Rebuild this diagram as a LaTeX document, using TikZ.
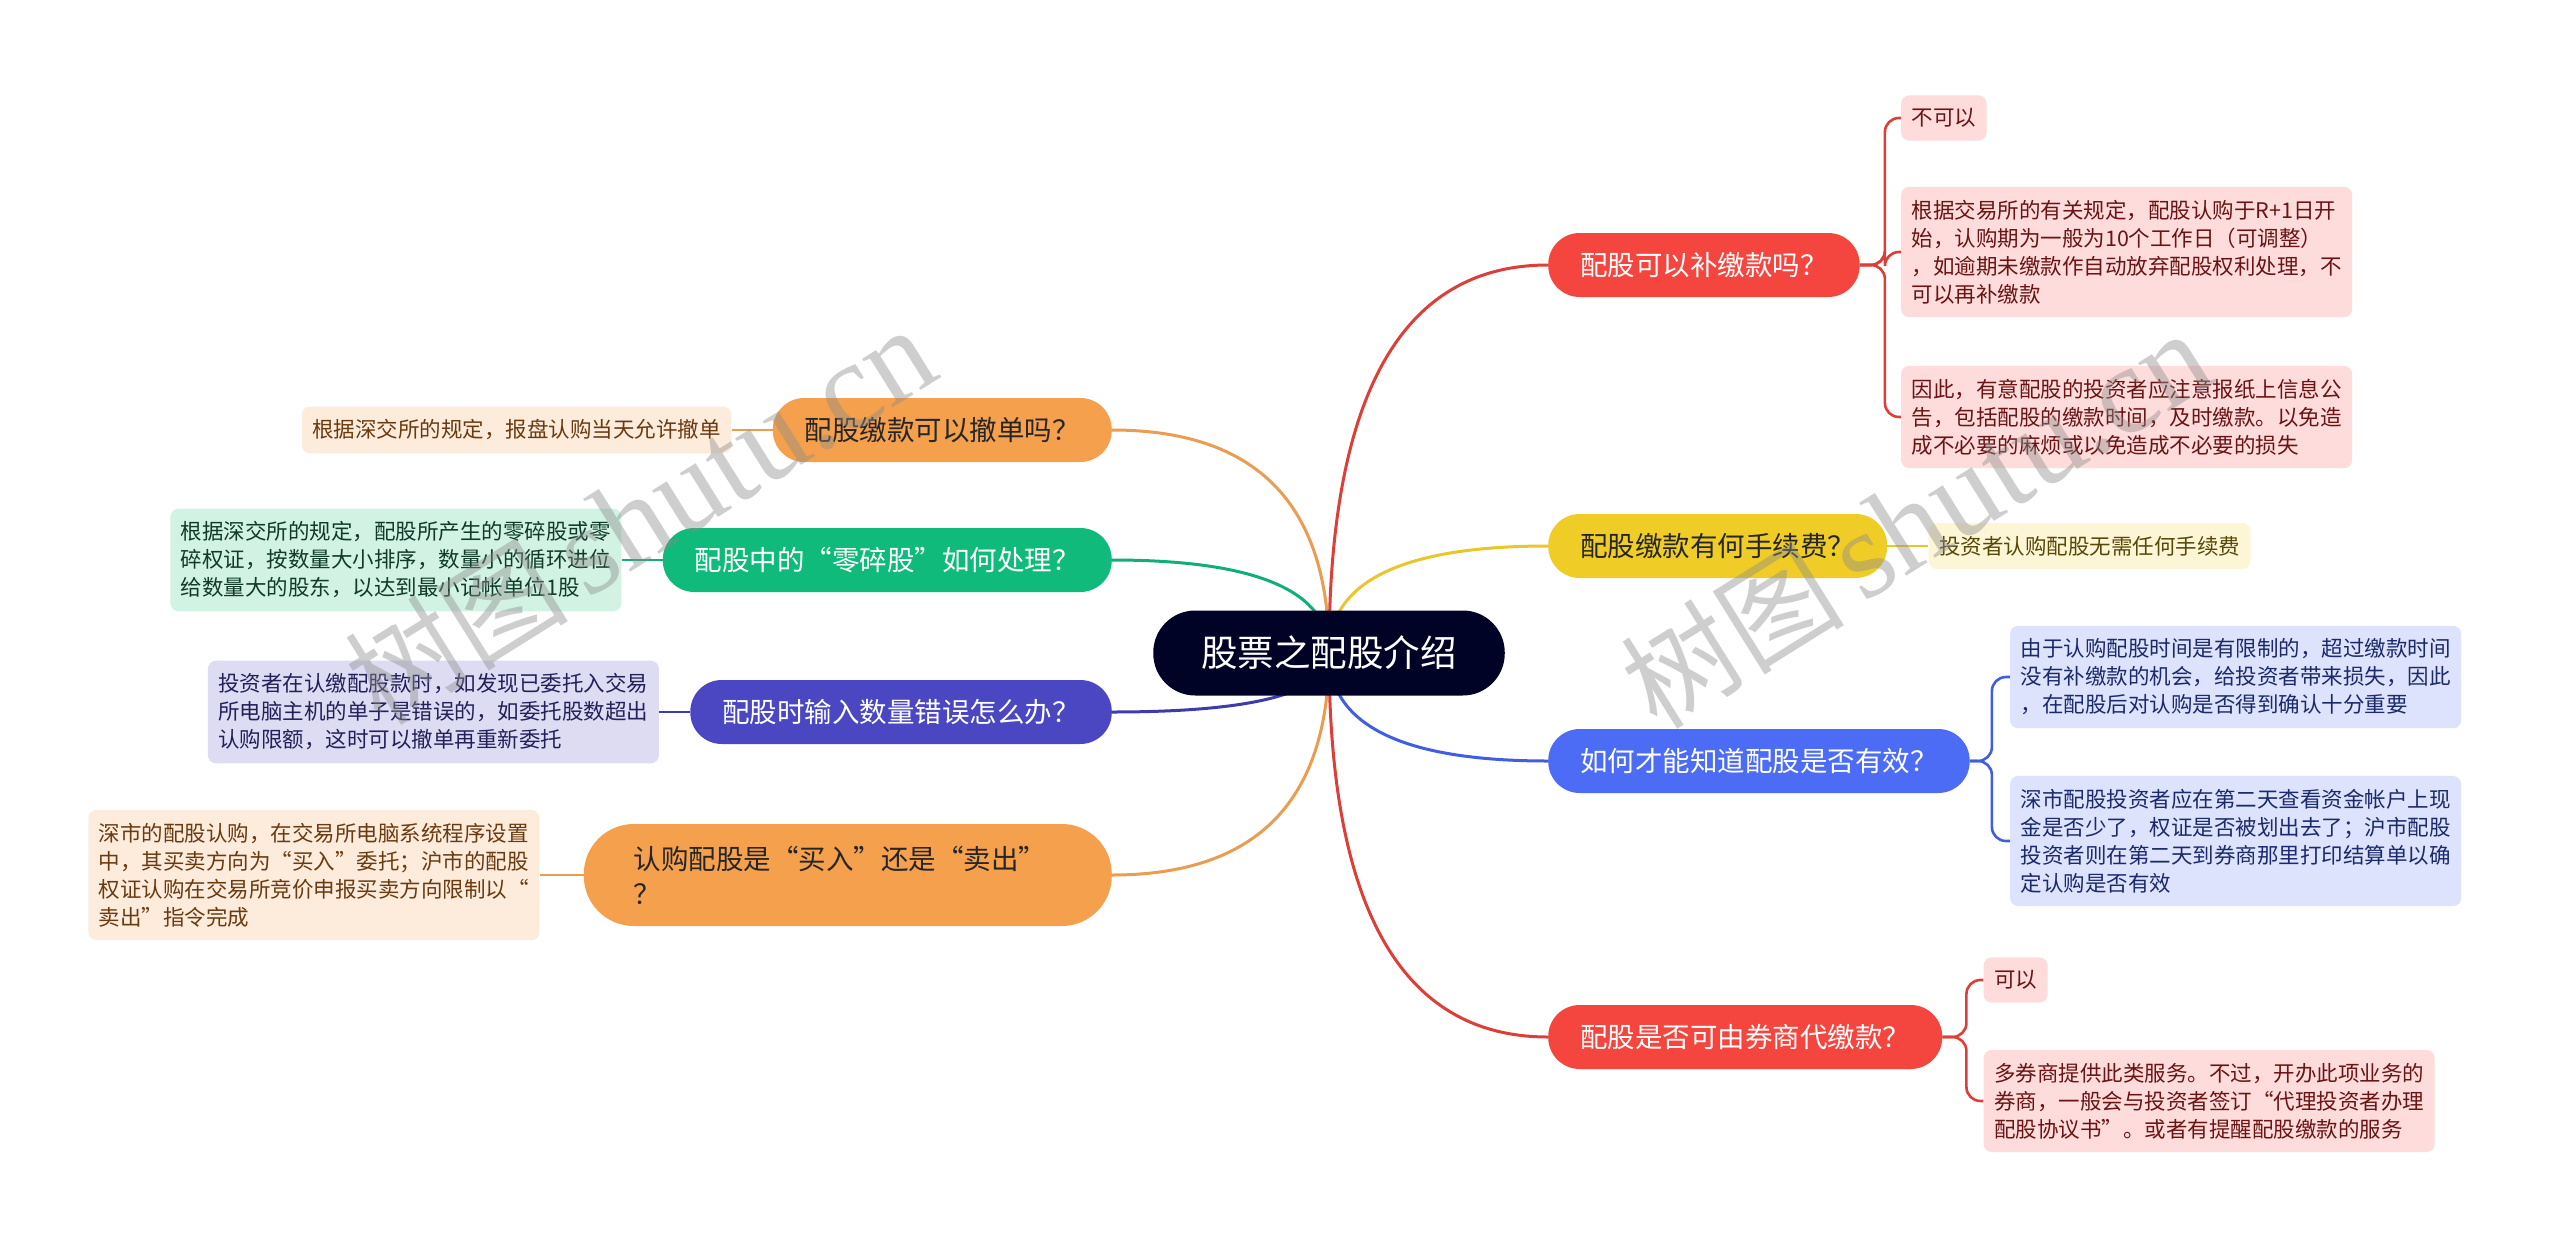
\documentclass[tikz,border=0pt]{standalone}
\usepackage{fontspec}
\newfontfamily\cjk{Noto Sans CJK SC}
\newfontfamily\wmlatin{Liberation Serif}
\usetikzlibrary{calc}
\definecolor{cRoot}{HTML}{000226}
\definecolor{cRed}{HTML}{F4453E}
\definecolor{cRedE}{HTML}{DB3F38}
\definecolor{cRedL}{HTML}{FDDCDB}
\definecolor{cRedT}{HTML}{6A1414}
\definecolor{cYel}{HTML}{F0CD26}
\definecolor{cYelE}{HTML}{E9C62A}
\definecolor{cYelL}{HTML}{FDF6D6}
\definecolor{cYelT}{HTML}{584808}
\definecolor{cBlu}{HTML}{4C6CF5}
\definecolor{cBluE}{HTML}{3F5FE0}
\definecolor{cBluL}{HTML}{DDE3FC}
\definecolor{cBluT}{HTML}{1B2A6B}
\definecolor{cOra}{HTML}{F5A04C}
\definecolor{cOraE}{HTML}{EA9D50}
\definecolor{cOraL}{HTML}{FDEBDC}
\definecolor{cOraT}{HTML}{6A3B10}
\definecolor{cGrn}{HTML}{10BA7A}
\definecolor{cGrnE}{HTML}{12AE78}
\definecolor{cGrnL}{HTML}{D2F2E3}
\definecolor{cGrnT}{HTML}{103A2A}
\definecolor{cPur}{HTML}{4B47C2}
\definecolor{cPurE}{HTML}{3F3BAE}
\definecolor{cPurL}{HTML}{DDDCF3}
\definecolor{cPurT}{HTML}{23205A}
\pgfdeclarelayer{back}\pgfdeclarelayer{bg}\pgfdeclarelayer{fore}
\pgfsetlayers{back,bg,main,fore}
\tikzset{
  rootbox/.style={fill=cRoot,text=white,rounded corners=42pt,minimum height=85pt,
    inner xsep=48pt,inner ysep=0pt,font=\cjk\fontsize{36.5}{44}\selectfont},
  topic/.style={rounded corners=31.5pt,minimum height=64pt,inner xsep=32pt,inner ysep=0pt,
    font=\cjk\fontsize{27.5}{35}\selectfont},
  sub/.style={rounded corners=8pt,inner xsep=10.5pt,inner ysep=13pt,align=left,
    font=\cjk\fontsize{21.5}{28}\selectfont},
  trunk/.style={line width=3pt},
  twig/.style={line width=2.6pt,rounded corners=14pt},
  wm/.style={text=black!45,text opacity=0.42,rotate=32,inner sep=0pt},
}
\newcommand\rlink[3]{%
  \coordinate (k#3) at (root.center |- #2);
  \draw[trunk,#1] (root.center) .. controls ($(root.center)!0.667!(k#3)$) and ($(#2)!0.667!(k#3)$) .. (#2);}
\begin{document}
\begin{tikzpicture}[x=1pt,y=-1pt]
\useasboundingbox (0,0) rectangle (2560,1245);
\begin{pgfonlayer}{back}
\fill[white] (0,0) rectangle (2560,1245);
\end{pgfonlayer}

% root
\node[rootbox] (root) at (1329,653) {股票之配股介绍};

% right topics
\node[topic,anchor=west,fill=cRed,text=white] (R1) at (1548,265) {配股可以补缴款吗？};
\node[topic,anchor=west,fill=cYel,text=black!85] (R2) at (1548,546) {配股缴款有何手续费？};
\node[topic,anchor=west,fill=cBlu,text=white] (R3) at (1548,761) {如何才能知道配股是否有效？};
\node[topic,anchor=west,fill=cRed,text=white] (R4) at (1548,1037) {配股是否可由券商代缴款？};

% left topics
\node[topic,anchor=east,fill=cOra,text=black!85] (L1) at (1112,430) {配股缴款可以撤单吗？};
\node[topic,anchor=east,fill=cGrn,text=white] (L2) at (1112,560) {配股中的“零碎股”如何处理？};
\node[topic,anchor=east,fill=cPur,text=white] (L3) at (1112,712) {配股时输入数量错误怎么办？};
\node[topic,anchor=east,fill=cOra,text=black!85,rounded corners=50pt,minimum height=102pt,
  text width=428pt,inner xsep=50pt,align=left] (L4) at (1112,875) {认购配股是“买入”还是“卖出”\\？};

% right children
\path (R1.east) ++(41,0) coordinate (r1x);
\node[sub,anchor=west,fill=cRedL,text=cRedT] (r1a) at (r1x |- 0,118) {不可以};
\node[sub,anchor=west,fill=cRedL,text=cRedT] (r1b) at (r1x |- 0,252) {根据交易所的有关规定，配股认购于R+1日开\\始，认购期为一般为10个工作日（可调整）\\，如逾期未缴款作自动放弃配股权利处理，不\\可以再补缴款};
\node[sub,anchor=west,fill=cRedL,text=cRedT] (r1c) at (r1x |- 0,417) {因此，有意配股的投资者应注意报纸上信息公\\告，包括配股的缴款时间，及时缴款。以免造\\成不必要的麻烦或以免造成不必要的损失};

\node[sub,anchor=west,fill=cYelL,text=cYelT] (r2a) at ([xshift=41pt]R2.east) {投资者认购配股无需任何手续费};

\path (R3.east) ++(40,0) coordinate (r3x);
\node[sub,anchor=west,fill=cBluL,text=cBluT] (r3a) at (r3x |- 0,677) {由于认购配股时间是有限制的，超过缴款时间\\没有补缴款的机会，给投资者带来损失，因此\\，在配股后对认购是否得到确认十分重要};
\node[sub,anchor=west,fill=cBluL,text=cBluT] (r3b) at (r3x |- 0,841) {深市配股投资者应在第二天查看资金帐户上现\\金是否少了，权证是否被划出去了；沪市配股\\投资者则在第二天到券商那里打印结算单以确\\定认购是否有效};

\path (R4.east) ++(41,0) coordinate (r4x);
\node[sub,anchor=west,fill=cRedL,text=cRedT] (r4a) at (r4x |- 0,980) {可以};
\node[sub,anchor=west,fill=cRedL,text=cRedT] (r4b) at (r4x |- 0,1101) {多券商提供此类服务。不过，开办此项业务的\\券商，一般会与投资者签订“代理投资者办理\\配股协议书”。或者有提醒配股缴款的服务};

% left children
\node[sub,anchor=east,fill=cOraL,text=cOraT] (l1a) at ([xshift=-41pt]L1.west) {根据深交所的规定，报盘认购当天允许撤单};
\node[sub,anchor=east,fill=cGrnL,text=cGrnT] (l2a) at ([xshift=-41pt]L2.west) {根据深交所的规定，配股所产生的零碎股或零\\碎权证，按数量大小排序，数量小的循环进位\\给数量大的股东，以达到最小记帐单位1股};
\node[sub,anchor=east,fill=cPurL,text=cPurT] (l3a) at ([xshift=-31pt]L3.west) {投资者在认缴配股款时，如发现已委托入交易\\所电脑主机的单子是错误的，如委托股数超出\\认购限额，这时可以撤单再重新委托};
\node[sub,anchor=east,fill=cOraL,text=cOraT] (l4a) at ([xshift=-44pt]L4.west) {深市的配股认购，在交易所电脑系统程序设置\\中，其买卖方向为“买入”委托；沪市的配股\\权证认购在交易所竞价申报买卖方向限制以“\\卖出”指令完成};

% connectors
\begin{pgfonlayer}{bg}
\rlink{cRedE}{R1.west}{1}
\rlink{cYelE}{R2.west}{2}
\rlink{cBluE}{R3.west}{3}
\rlink{cRedE}{R4.west}{4}
\rlink{cOraE}{L1.east}{5}
\rlink{cGrnE}{L2.east}{6}
\rlink{cPurE}{L3.east}{7}
\rlink{cOraE}{L4.east}{8}
\draw[twig,cRedE] (R1.east) -- ++(25,0) |- (r1a.west);
\draw[twig,cRedE] (R1.east) -- ++(25,0) |- (r1b.west);
\draw[twig,cRedE] (R1.east) -- ++(25,0) |- (r1c.west);
\draw[twig,cYelE] (R2.east) -- (r2a.west);
\draw[twig,cBluE] (R3.east) -- ++(22,0) |- (r3a.west);
\draw[twig,cBluE] (R3.east) -- ++(22,0) |- (r3b.west);
\draw[twig,cRedE] (R4.east) -- ++(24,0) |- (r4a.west);
\draw[twig,cRedE] (R4.east) -- ++(24,0) |- (r4b.west);
\draw[twig,cOraE] (L1.west) -- (l1a.east);
\draw[twig,cGrnE] (L2.west) -- (l2a.east);
\draw[twig,cPurE] (L3.west) -- (l3a.east);
\draw[twig,cOraE] (L4.west) -- (l4a.east);
\end{pgfonlayer}

% watermarks
\begin{pgfonlayer}{fore}
\node[wm] (wm1) at (640,516) {\cjk\fontsize{112}{120}\selectfont 树图\,\wmlatin\fontsize{125}{130}\selectfont shutu.cn};
\node[wm] (wm2) at (1916,520) {\cjk\fontsize{112}{120}\selectfont 树图\,\wmlatin\fontsize{125}{130}\selectfont shutu.cn};
\end{pgfonlayer}
\end{tikzpicture}
\end{document}
